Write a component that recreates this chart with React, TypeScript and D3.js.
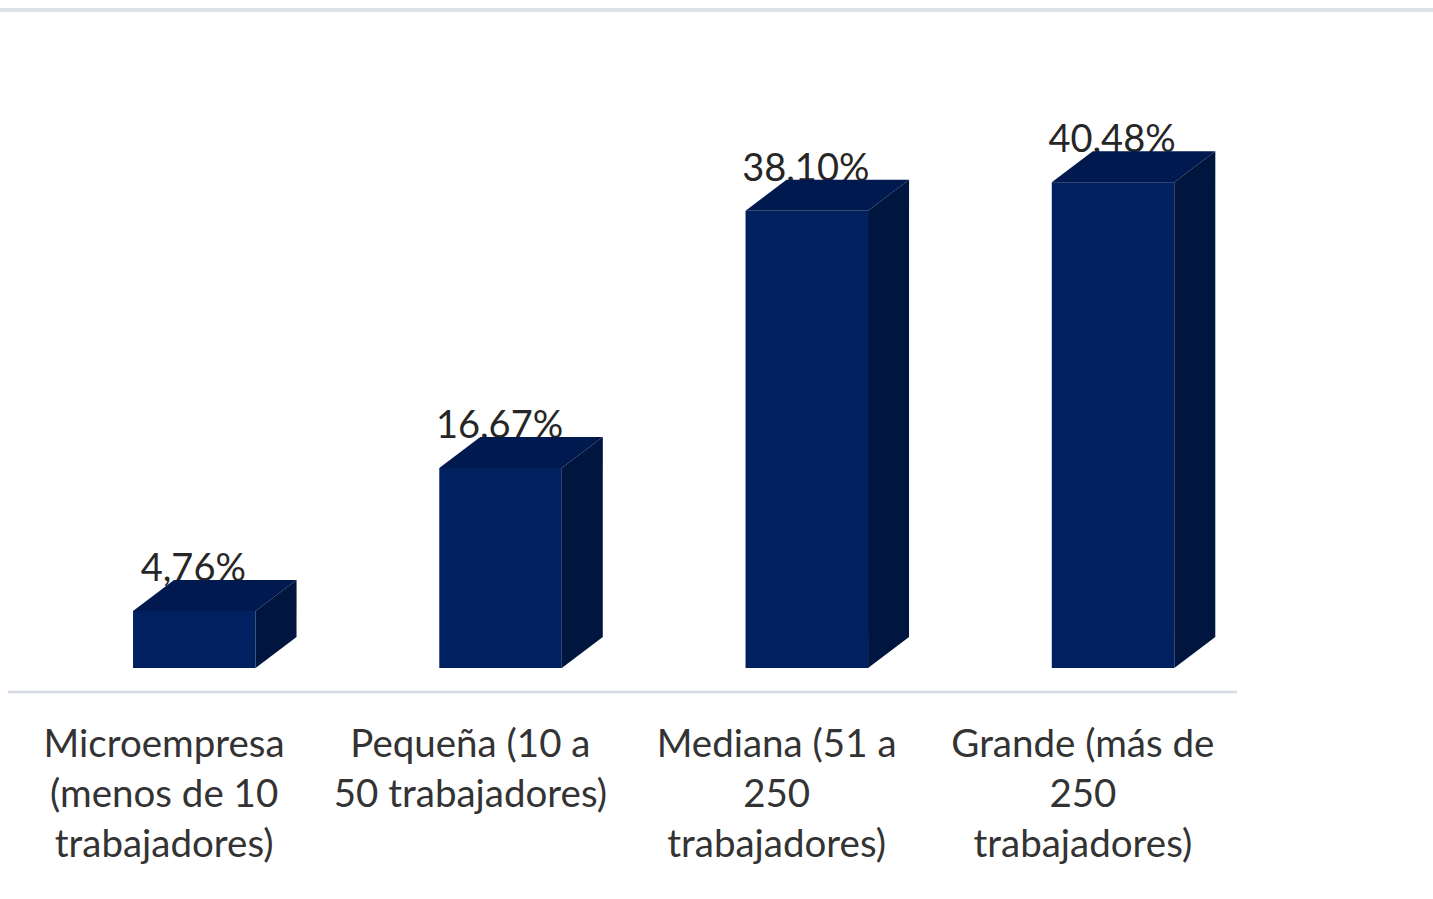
import React from "react";
import * as d3 from "d3";

const categories = ["Microempresa", "Pequeña", "Mediana", "Grande"];
const values = [4.76, 16.67, 38.1, 40.48];
const valueLabels = ["4,76%", "16,67%", "38,10%", "40,48%"];
const categoryLines = [
  ["Microempresa", "(menos de 10", "trabajadores)"],
  ["Pequeña (10 a", "50 trabajadores)"],
  ["Mediana (51 a", "250", "trabajadores)"],
  ["Grande (más de", "250", "trabajadores)"],
];

const W = 1433;
const H = 899;
const FONT = "Lato, 'Open Sans', sans-serif";

export default function App() {
  const x = d3.scaleBand<string>().domain(categories).range([9, 1234]).paddingInner(0).paddingOuter(0);
  const y = d3.scaleLinear().domain([0, 50]).range([668, 68]);
  const bw = x.bandwidth();
  const frontOff = bw * 0.405;
  const frontW = bw * 0.4;
  const dx = 41;
  const dy = 31;

  return (
    <svg width={W} height={H} style={{ position: "absolute", left: 0, top: 0, background: "#fff" }}>
      <rect x={0} y={8} width={W} height={4} fill="#dde1e9" />
      <line x1={8} x2={1237} y1={692} y2={692} stroke="#d6dae4" strokeWidth={2.5} />
      {categories.map((c, i) => {
        const x0 = (x(c) as number) + frontOff;
        const x1 = x0 + frontW;
        const yt = y(values[i]);
        const yb = y(0);
        const top = `M${x0},${yt} L${x0 + dx},${yt - dy} L${x1 + dx},${yt - dy} L${x1},${yt} Z`;
        const side = `M${x1},${yt} L${x1 + dx},${yt - dy} L${x1 + dx},${yb - dy} L${x1},${yb} Z`;
        return (
          <g key={c}>
            <text
              x={(x0 + x1) / 2 - 1}
              y={yt - dy + 1}
              textAnchor="middle"
              fontFamily={FONT}
              fontSize={38}
              fill="#262626"
            >
              {valueLabels[i]}
            </text>
            <rect x={x0} y={yt} width={frontW} height={yb - yt} fill="#00205f" />
            <path d={top} fill="#001a4f" />
            <path d={side} fill="#00163f" />
          </g>
        );
      })}
      {categories.map((c, i) => (
        <text
          key={c + "l"}
          x={(x(c) as number) + bw / 2 + 2}
          y={757}
          textAnchor="middle"
          fontFamily={FONT}
          fontSize={38.5}
          fill="#333"
        >
          {categoryLines[i].map((ln, j) => (
            <tspan key={j} x={(x(c) as number) + bw / 2 + 2} dy={j === 0 ? 0 : 50}>
              {ln}
            </tspan>
          ))}
        </text>
      ))}
    </svg>
  );
}
